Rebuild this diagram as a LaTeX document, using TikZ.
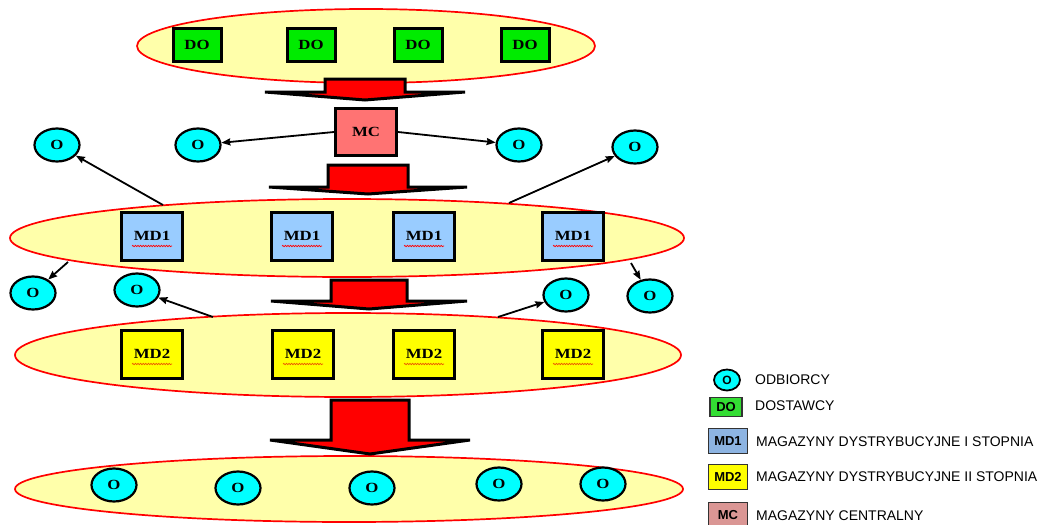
\documentclass[tikz,border=0pt]{standalone}
\usepackage{fontspec}
\setmainfont{Liberation Serif}
\newfontfamily\lblfont[FakeStretch=1.2]{Liberation Serif}
\newfontfamily\legfont{Liberation Sans}
\usetikzlibrary{shapes.geometric,arrows.meta,decorations.pathmorphing,calc}
\definecolor{ellfill}{RGB}{255,255,170}
\definecolor{dogreen}{RGB}{0,235,0}
\definecolor{mcfill}{RGB}{255,115,115}
\definecolor{mdone}{RGB}{153,204,255}
\definecolor{mdtwo}{RGB}{255,255,0}
\definecolor{ocyan}{RGB}{0,255,255}
\definecolor{lgdo}{RGB}{51,221,51}
\definecolor{lgmdone}{RGB}{141,180,226}
\definecolor{lgmc}{RGB}{218,150,148}
\definecolor{sqtwo}{RGB}{235,90,0}
\tikzset{
  grp/.style={ellipse, draw=red, line width=1.7pt, fill=ellfill, inner sep=0pt},
  dobox/.style={rectangle, draw=black, line width=3pt, fill=dogreen, minimum width=48pt, minimum height=33pt, inner sep=0pt, font=\lblfont\bfseries\fontsize{14}{14}\selectfont},
  mdbox/.style={rectangle, draw=black, line width=3pt, minimum width=61pt, minimum height=48pt, inner sep=0pt, font=\lblfont\bfseries\fontsize{14}{14}\selectfont},
  cons/.style={ellipse, draw=black, line width=2.2pt, fill=ocyan, minimum width=45pt, minimum height=33pt, inner sep=0pt, font=\lblfont\bfseries\fontsize{14}{14}\selectfont},
  link/.style={draw=black, line width=1.8pt, -{Stealth[length=9pt,width=7pt,inset=1pt]}},
  blk/.style={draw=black, fill=red, line width=3pt, line join=miter},
  squig/.style={decorate, decoration={snake, amplitude=0.7pt, segment length=2.6pt}, line width=0.7pt},
  lgbox/.style={rectangle, draw=black!80, line width=1.4pt, minimum width=39pt, minimum height=25pt, inner sep=0pt, font=\legfont\bfseries\fontsize{13}{13}\selectfont},
  lgtext/.style={anchor=west, inner sep=0pt, font=\legfont\fontsize{14}{14}\selectfont}
}
\newcommand\blkarrow[6]{\draw[blk] (#1-#2,#3) -- (#1+#2,#3) -- (#1+#2,#4) -- (#1+#5,#4) -- (#1,#6) -- (#1-#5,#4) -- (#1-#2,#4) -- cycle;}
\begin{document}
\begin{tikzpicture}[x=1pt,y=-1pt]
\useasboundingbox[fill=white] (0,0) rectangle (1042,525);
% groups
\node[grp, minimum width=458pt, minimum height=74pt] (e1) at (366,46) {};
\node[grp, minimum width=674pt, minimum height=78pt] (e2) at (347,238) {};
\node[grp, minimum width=666pt, minimum height=84pt] (e3) at (348,355) {};
\node[grp, minimum width=668pt, minimum height=66pt] (e4) at (349,489) {};
% suppliers
\node[dobox] (do1) at (197,45) {DO};
\node[dobox] (do2) at (311,45) {DO};
\node[dobox] (do3) at (418,45) {DO};
\node[dobox] (do4) at (525,45) {DO};
% central
\node[mdbox, fill=mcfill, minimum height=47pt] (mc) at (366,132) {MC};
% MD1
\node[mdbox, fill=mdone] (ma1) at (152,236) {MD1};
\node[mdbox, fill=mdone] (ma2) at (302,236) {MD1};
\node[mdbox, fill=mdone] (ma3) at (424,236) {MD1};
\node[mdbox, fill=mdone] (ma4) at (573,236) {MD1};
% MD2
\node[mdbox, fill=mdtwo] (mb1) at (152,354) {MD2};
\node[mdbox, fill=mdtwo] (mb2) at (303,354) {MD2};
\node[mdbox, fill=mdtwo] (mb3) at (424,354) {MD2};
\node[mdbox, fill=mdtwo] (mb4) at (573,354) {MD2};
\foreach \n in {ma1,ma2,ma3,ma4}{\draw[squig, red] ($(\n.center)+(-20,10)$) -- ($(\n.center)+(20,10)$);}
\foreach \n in {mb1,mb2,mb3,mb4}{\draw[squig, sqtwo] ($(\n.center)+(-20,10)$) -- ($(\n.center)+(20,10)$);}
% customers
\node[cons] (o1) at (57,145) {O};
\node[cons] (o2) at (198,145) {O};
\node[cons] (o3) at (519,145) {O};
\node[cons] (o4) at (635,147) {O};
\node[cons] (o5) at (33,293) {O};
\node[cons] (o6) at (137,290) {O};
\node[cons] (o7) at (566,295) {O};
\node[cons] (o8) at (650,296) {O};
\node[cons] (ob1) at (114,485) {O};
\node[cons] (ob2) at (238,488) {O};
\node[cons] (ob3) at (372,488) {O};
\node[cons] (ob4) at (499,484) {O};
\node[cons] (ob5) at (603,484) {O};
% block arrows
\blkarrow{365}{40}{79}{92}{100}{100}
\blkarrow{368}{40}{165}{187}{99}{194}
\blkarrow{369}{38}{280}{301}{98}{309}
\blkarrow{370}{39}{400}{440}{100}{454}
% connectors
\coordinate (c1) at (163,205);
\coordinate (c2) at (509,203);
\coordinate (c3) at (68,262);
\coordinate (c4) at (213,317);
\coordinate (c5) at (498,317);
\coordinate (c6) at (631,263);
\draw[link] (mc.west) -- (o2);
\draw[link] (mc.east) -- (o3);
\draw[link] (c1) -- (o1);
\draw[link] (c2) -- (o4);
\draw[link] (c3) -- (o5);
\draw[link] (c4) -- (o6);
\draw[link] (c5) -- (o7);
\draw[link] (c6) -- (o8);
% legend
\node[cons, line width=1.8pt, minimum width=26pt, minimum height=21pt, font=\legfont\bfseries\fontsize{12}{12}\selectfont] (lo) at (727,380) {O};
\node[lgbox, fill=lgdo, minimum width=32pt, minimum height=19pt] (ldo) at (726,407) {DO};
\node[lgbox, fill=lgmdone] (lmd1) at (728,441) {MD1};
\node[lgbox, fill=mdtwo] (lmd2) at (728,477) {MD2};
\node[lgbox, fill=lgmc] (lmc) at (728,515) {MC};
\node[lgtext] (t1) at (755,380) {ODBIORCY};
\node[lgtext] (t2) at (755,406) {DOSTAWCY};
\node[lgtext] (t3) at (756,442) {MAGAZYNY DYSTRYBUCYJNE I STOPNIA};
\node[lgtext] (t4) at (756,477) {MAGAZYNY DYSTRYBUCYJNE II STOPNIA};
\node[lgtext] (t5) at (756,516) {MAGAZYNY CENTRALNY};
\end{tikzpicture}
\end{document}
